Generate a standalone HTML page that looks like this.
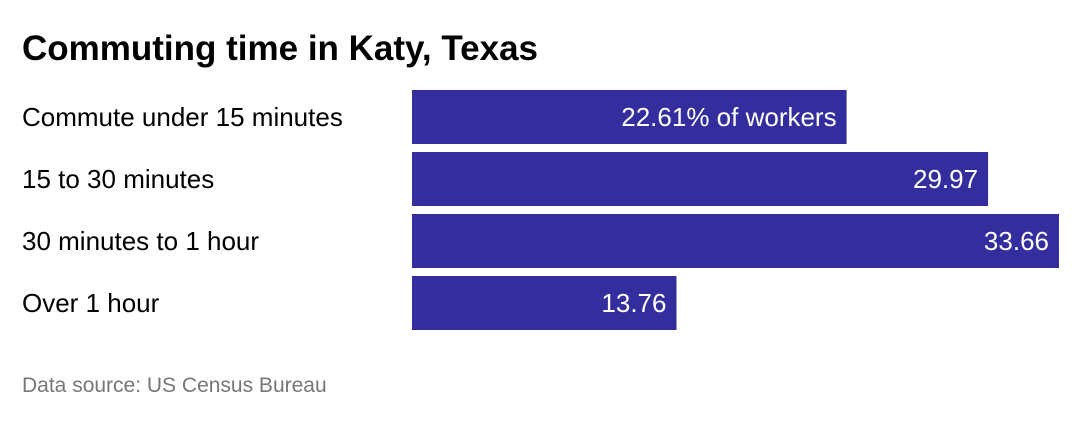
<!DOCTYPE html>
<html><head><meta charset="utf-8"><style>
body{margin:0;width:1080px;height:420px;background:#fff;font-family:"Liberation Sans",Arial,sans-serif;overflow:hidden}
</style></head><body>
<svg width="1080" height="420">
<text x="22" y="60" font-size="35" font-weight="bold" fill="#000">Commuting time in Katy, Texas</text>
<g id="bars"></g>
<text x="22" y="392" font-size="21" fill="#777">Data source: US Census Bureau</text>
</svg>
<script>
const categories=["Commute under 15 minutes","15 to 30 minutes","30 minutes to 1 hour","Over 1 hour"];
const values=[22.61,29.97,33.66,13.76];
const valueLabels=["22.61% of workers","29.97","33.66","13.76"];
const x0=412,pxPer=647/33.66,top0=90,bh=54,pitch=62;
const xs=v=>x0+v*pxPer;
const g=document.getElementById('bars');
const ns="http://www.w3.org/2000/svg";
categories.forEach((c,i)=>{
 const y=top0+i*pitch;
 const t=document.createElementNS(ns,'text');
 
 
 t.setAttribute('x',22);t.setAttribute('y',y+bh/2+9);t.setAttribute('font-size',26);t.setAttribute('fill','#000');
 t.textContent=c;g.appendChild(t);
 const r=document.createElementNS(ns,'rect');
 
 
 r.setAttribute('x',x0);r.setAttribute('y',y);r.setAttribute('width',xs(values[i])-x0);r.setAttribute('height',bh);r.setAttribute('fill','#332d9e');
 g.appendChild(r);
 const v=document.createElementNS(ns,'text');
 
 
 v.setAttribute('x',xs(values[i])-10);v.setAttribute('y',y+bh/2+9);v.setAttribute('font-size',26);v.setAttribute('fill','#fff');v.setAttribute('text-anchor','end');
 v.textContent=valueLabels[i];g.appendChild(v);
});
</script>
</body></html>
